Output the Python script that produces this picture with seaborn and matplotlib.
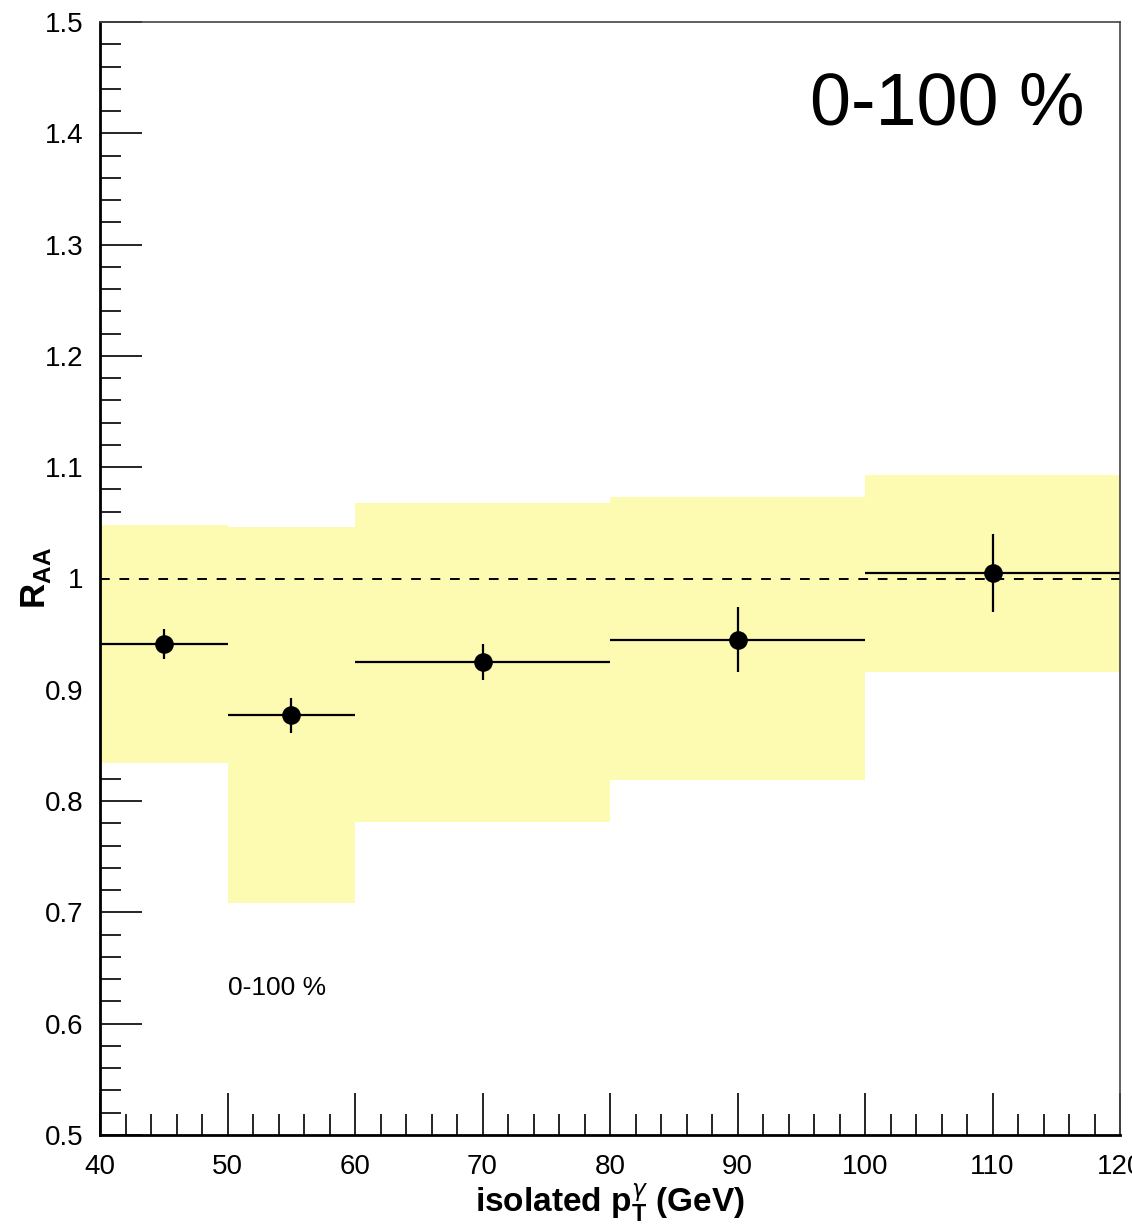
import numpy as np
import pandas as pd
import matplotlib
matplotlib.use("Agg")
import matplotlib.pyplot as plt
import seaborn as sns
from matplotlib.ticker import MultipleLocator, FormatStrFormatter

# Isolated-photon nuclear modification factor, 0-100 % centrality
bin_lo = [40, 50, 60, 80, 100]
bin_hi = [50, 60, 80, 100, 120]
pt_center = [45, 55, 70, 90, 110]
raa = [0.941, 0.877, 0.925, 0.945, 1.005]
stat_err = [0.0135, 0.0155, 0.016, 0.029, 0.035]
syst_hi = [1.048, 1.046, 1.068, 1.073, 1.093]
syst_lo = [0.834, 0.708, 0.781, 0.819, 0.916]

df = pd.DataFrame({
    "pt": pt_center, "raa": raa, "stat": stat_err,
    "lo": bin_lo, "hi": bin_hi, "syst_hi": syst_hi, "syst_lo": syst_lo,
})
df["width"] = df["hi"] - df["lo"]

sns.set_theme(style="white")
plt.rcParams["font.family"] = ["Liberation Sans", "DejaVu Sans"]
plt.rcParams["mathtext.fontset"] = "custom"
plt.rcParams["mathtext.rm"] = "Liberation Sans"
plt.rcParams["mathtext.bf"] = "Liberation Sans:bold"

fig = plt.figure(figsize=(11.32, 12.32), dpi=100)
ax = fig.add_axes([100 / 1132, 1 - 1135 / 1232, 1020 / 1132, 1113 / 1232])

# systematic uncertainty boxes
ax.bar(df["pt"], df["syst_hi"] - df["syst_lo"], bottom=df["syst_lo"],
       width=df["width"], color="#fdfab2", edgecolor="none", zorder=1)

# reference line at unity
ax.plot([40, 120], [1, 1], ls=(0, (5, 5)), color="black", lw=1.4, zorder=2)

# statistical errors and bin widths
ax.errorbar(df["pt"], df["raa"], xerr=df["width"] / 2, yerr=df["stat"],
            fmt="none", ecolor="black", elinewidth=1.6, capsize=0, zorder=3)
sns.scatterplot(data=df, x="pt", y="raa", ax=ax, s=180, color="black",
                edgecolor="black", linewidth=0, zorder=4, legend=False)

ax.set_xlim(40, 120)
ax.set_ylim(0.5, 1.5)

ax.xaxis.set_major_locator(MultipleLocator(10))
ax.xaxis.set_minor_locator(MultipleLocator(2))
ax.yaxis.set_major_locator(MultipleLocator(0.1))
ax.yaxis.set_minor_locator(MultipleLocator(0.02))
ax.yaxis.set_major_formatter(FormatStrFormatter("%g"))

ax.tick_params(axis="both", which="major", direction="in", length=30, width=1.2,
               color="black", bottom=True, left=True, top=False, right=False)
ax.tick_params(axis="both", which="minor", direction="in", length=15, width=1.2,
               color="black", bottom=True, left=True, top=False, right=False)
ax.tick_params(axis="y", which="major", labelsize=20, pad=12, labelcolor="black")
ax.tick_params(axis="x", which="major", labelsize=20, pad=14, labelcolor="black")

for side in ["left", "bottom"]:
    ax.spines[side].set_color("black")
    ax.spines[side].set_linewidth(2)
for side in ["top", "right"]:
    ax.spines[side].set_color("#444444")
    ax.spines[side].set_linewidth(1.2)

ax.set_xlabel(r"isolated p$_{\mathbf{T}}^{\gamma}$ (GeV)", fontsize=24,
              fontweight="bold", color="black")
ax.xaxis.label.set_va("baseline")
ax.xaxis.set_label_coords(0.5, -(1213 - 1135) / 1113)
ax.set_ylabel(r"R$_{\mathbf{AA}}$", fontsize=25, fontweight="bold", color="black")
ax.yaxis.set_label_coords(-0.046, 0.5)

ax.text(0.965, 0.925, "0-100 %", transform=ax.transAxes, ha="right", va="center",
        fontsize=53, color="black")
ax.text(50, 0.632, "0-100 %", ha="left", va="center", fontsize=19, color="black")

fig.savefig("out.png", dpi=100)
